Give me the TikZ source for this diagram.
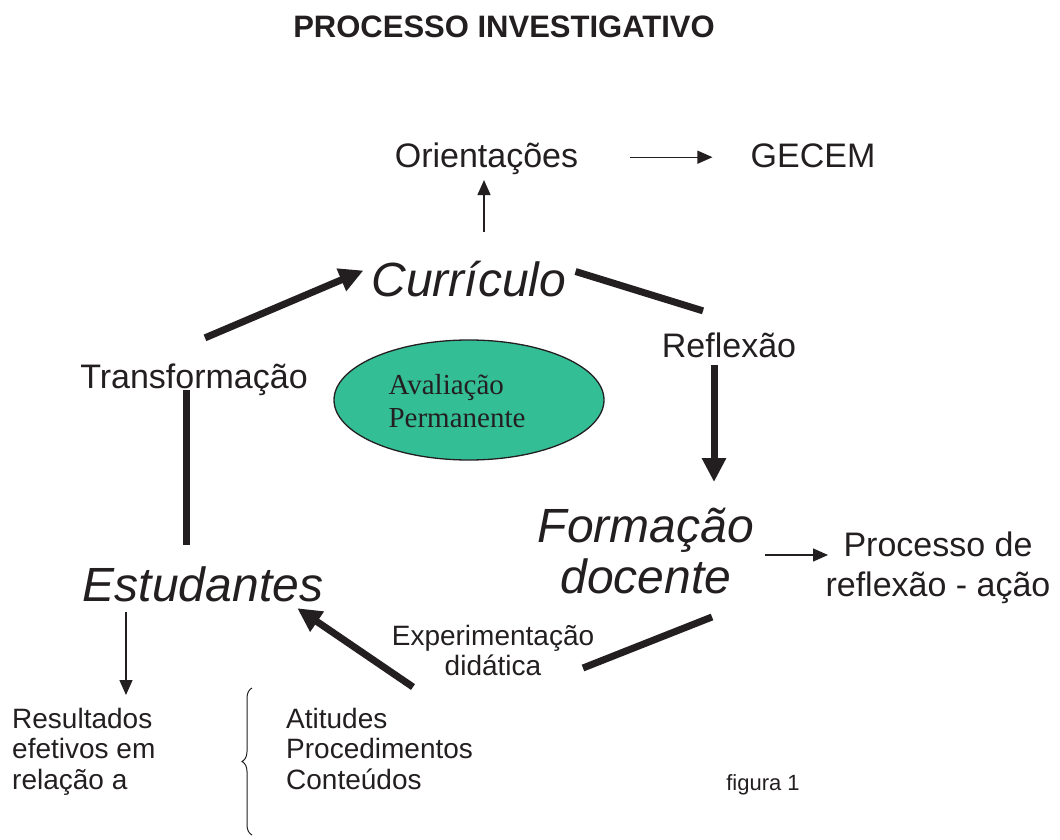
\documentclass[tikz,border=0pt]{standalone}
\usepackage{xcolor}
\usepackage{fontspec}
\setmainfont{Liberation Sans}
\newfontfamily\avfont{Liberation Serif}
\usepackage{tikz}
\usetikzlibrary{positioning, arrows.meta, shapes.geometric, decorations.pathreplacing}

\definecolor{ink}{RGB}{35,31,32}
\definecolor{evalgreen}{RGB}{52,190,150}

\newcommand{\sztitle}{\fontsize{31}{36}\selectfont\bfseries}
\newcommand{\szmid}{\fontsize{34}{40}\selectfont}
\newcommand{\szbig}{\fontsize{48}{51}\selectfont\itshape}
\newcommand{\szsmall}{\fontsize{28}{30.5}\selectfont}
\newcommand{\szfig}{\fontsize{22}{26}\selectfont}

\begin{document}
\begin{tikzpicture}
	[
	   x = 1pt, y = -1pt,
	   every node/.style = {text = ink, inner sep = 0pt},
	   titleword/.style = {font = \sztitle, text height = 22.3pt, text depth = 6.2pt},
	   midword/.style = {font = \szmid, text height = 24.5pt, text depth = 6.8pt},
	   bigword/.style = {font = \szbig, text height = 34.6pt, text depth = 9.6pt},
	   figword/.style = {font = \szfig, text height = 15.8pt, text depth = 4.4pt},
	   heavy/.style = {draw = ink, line width = 7pt},
	   heavyarrow/.style = {heavy, -{Triangle[length = 24pt, width = 23pt]}},
	   thinarrow/.style = {draw = ink, line width = 1.3pt, -{Triangle[length = 15pt, width = 13pt]}},
	]
	\useasboundingbox (0,0) rectangle (1060,840);

	\node[titleword] (title) at (504,29) {PROCESSO INVESTIGATIVO};
	\node[midword] (orient) at (486.5,158.2) {Orientações};
	\node[midword] (gecem) at (813,158.2) {GECEM};
	\node[bigword] (curr) at (469,283.5) {Currículo};
	\node[midword] (refl) at (729,348.2) {Reflexão};
	\node[midword] (transf) at (194,379.2) {Transformação};
	\node[bigword] (estud) at (203,588.5) {Estudantes};
	\node[font = \szbig, align = center, anchor = north] (form) at (646,507.5) {Formação\\docente};
	\node[font = \szmid, align = center, anchor = north] (proc) at (938,532) {Processo de\\reflexão - ação};
	\node[font = \szsmall, align = center, anchor = north] (exper) at (493,624.6) {Experimentação\\didática};
	\node[font = \szsmall, align = left, anchor = north west] (result) at (12,707.6) {Resultados\\efetivos em\\relação a};
	\node[font = \szsmall, align = left, anchor = north west] (atit) at (286,707.6) {Atitudes\\Procedimentos\\Conteúdos};
	\node[figword] (fig) at (763,784.3) {figura 1};

	\node[ellipse, draw = ink, line width = 1.3pt, fill = evalgreen, minimum width = 270pt, minimum height = 120pt] (aval) at (469,400) {};
	\node[font = \avfont\fontsize{29}{33}\selectfont, align = left] (avtext) at ([xshift = -12pt, yshift = -1pt]aval.center) {Avaliação\\Permanente};

	\draw[thinarrow] ([shift = {(52,-1)}]orient.east) -- ([shift = {(-38,-1)}]gecem.west);
	\draw[thinarrow] ([shift = {(15,-29)}]curr.north) -- ([shift = {(-2.5,6)}]orient.south);

	\draw[heavyarrow] ([shift = {(11,-25.5)}]transf.north) -- ([shift = {(-8,-13)}]curr.west);
	\draw[heavy] ([shift = {(9,-12)}]curr.east) -- ([shift = {(-26,-21.5)}]refl.north);
	\draw[heavyarrow] ([shift = {(-15,1)}]refl.south) -- ([shift = {(68,-25.5)}]form.north);
	\draw[heavy] ([shift = {(66,109.5)}]form.north) -- ([shift = {(90,43.4)}]exper.north);
	\draw[heavyarrow] ([shift = {(-80,62.4)}]exper.north) -- ([shift = {(-26,-2.6)}]estud.south east);
	\draw[heavy] ([shift = {(-17,-21.4)}]estud.north) -- ([shift = {(-8,-5)}]transf.south);

	\draw[thinarrow] ([shift = {(119,47.5)}]form.north) -- ([shift = {(-110,23)}]proc.north);
	\draw[thinarrow] ([shift = {(-77,1.4)}]estud.south) -- ([shift = {(114,-12.6)}]result.north west);

	\draw[draw = ink, line width = 1pt, decorate, decoration = {brace, amplitude = 10pt}] ([shift = {(-34,127.4)}]atit.north west) -- ([shift = {(-34,-19.6)}]atit.north west);
\end{tikzpicture}
\end{document}
